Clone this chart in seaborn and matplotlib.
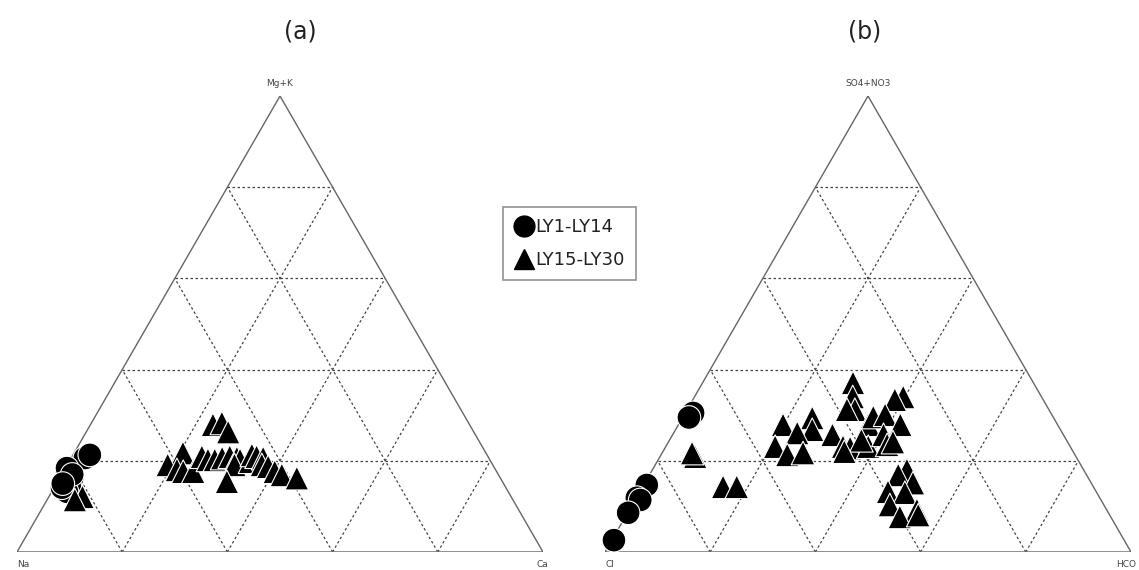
import numpy as np
import pandas as pd
import seaborn as sns
import matplotlib.pyplot as plt
from matplotlib.lines import Line2D

# (a) cations, percentages: top = Mg+K, right = Ca, left = Na (rest)
a_circ_top = [20.6, 21.3, 18.4, 16.2, 14.3, 13.2, 14.1, 17.0, 15.0]
a_circ_right = [2.6, 3.2, 0.3, 2.4, 2.9, 2.9, 1.5, 2.0, 1.2]
a_tri_top = [12.1, 11.4, 27.9, 28.3, 26.3, 21.7, 19.1, 18.0, 17.6, 17.6, 20.9, 20.2,
             20.2, 20.6, 20.9, 20.6, 20.2, 19.1, 19.8, 21.3, 20.9, 20.6, 19.1, 18.7,
             17.6, 16.9, 16.2, 15.4]
a_tri_right = [6.4, 5.3, 23.3, 24.8, 27.0, 20.7, 19.1, 21.4, 22.8, 24.7, 24.7, 26.2,
               27.5, 28.7, 30.0, 31.5, 32.3, 31.8, 34.4, 34.0, 35.1, 36.5, 37.0, 38.4,
               40.2, 41.9, 45.1, 32.2]

# (b) anions, percentages: top = SO4+NO3, right = HCO, left = Cl (rest)
b_circ_top = [30.5, 29.5, 14.7, 11.9, 11.4, 8.6, 2.6]
b_circ_right = [1.5, 1.2, 0.6, 0.1, 1.0, 0.1, 0.4]
b_tri_top = [20.9, 21.7, 14.3, 14.3, 37.1, 34.0, 31.2, 31.2, 34.0, 33.4, 27.9, 29.4,
             26.8, 26.1, 23.1, 21.3, 21.7, 25.7, 23.1, 22.8, 27.9, 29.6, 30.1, 27.9,
             23.1, 25.7, 23.5, 24.1, 18.0, 16.9, 15.1, 13.2, 13.0, 10.3, 9.2, 7.7, 8.1,
             24.5, 22.0]
b_tri_right = [6.7, 5.7, 15.3, 17.9, 28.6, 30.1, 31.9, 30.4, 39.7, 38.4, 19.9, 24.7,
               26.0, 23.5, 20.8, 24.0, 26.8, 30.4, 33.7, 35.2, 36.1, 36.2, 38.2, 42.2,
               38.5, 40.1, 41.9, 42.7, 48.4, 47.3, 51.0, 47.2, 50.5, 49.0, 54.7, 52.2, 55.5,
               36.5, 34.5]

H = np.sqrt(3) / 2


def to_xy(top, right):
    top = np.asarray(top) / 100
    right = np.asarray(right) / 100
    return right + top / 2, top * H


def make_df(circ_top, circ_right, tri_top, tri_right):
    cx, cy = to_xy(circ_top, circ_right)
    tx, ty = to_xy(tri_top, tri_right)
    return pd.DataFrame({
        'x': np.concatenate([cx, tx]),
        'y': np.concatenate([cy, ty]),
        'group': ['LY1-LY14'] * len(cx) + ['LY15-LY30'] * len(tx),
    })


def draw_ternary(ax, df, labels):
    # grid lines at 20 % steps, parallel to each side
    dash = dict(ls=(0, (2, 2)), color='#444444', lw=0.9)
    for f in [0.2, 0.4, 0.6, 0.8]:
        ax.plot([f / 2, 1 - f / 2], [f * H, f * H], **dash)
        ax.plot([f, f / 2 + 0.5], [0, (1 - f) * H], **dash)
        ax.plot([f, f / 2], [0, f * H], **dash)
    ax.plot([0, 1, 0.5, 0], [0, 0, H, 0], color='#666666', lw=1.0)
    sns.scatterplot(data=df, x='x', y='y', style='group', markers={'LY1-LY14': 'o', 'LY15-LY30': '^'},
                    color='black', s=290, edgecolor='white', linewidth=0.8, legend=False, ax=ax,
                    zorder=3, clip_on=False)
    ax.set_xlim(0, 1)
    ax.set_ylim(0, H)
    ax.set_axis_off()
    ax.text(0.5, H + 0.015, labels[0], ha='center', va='bottom', fontsize=6.5, color='#444444')
    ax.text(0.0, -0.015, labels[1], ha='left', va='top', fontsize=6.5, color='#444444')
    ax.text(1.01, -0.015, labels[2], ha='right', va='top', fontsize=6.5, color='#444444')


sns.set_style('white')
fig = plt.figure(figsize=(11.39, 5.70), dpi=100)

W, Hh = 1139, 570
ax1 = fig.add_axes([17 / W, 18 / Hh, 526 / W, 456 / Hh])
ax2 = fig.add_axes([605 / W, 18 / Hh, 526 / W, 456 / Hh])
for ax in (ax1, ax2):
    ax.patch.set_alpha(0)

draw_ternary(ax1, make_df(a_circ_top, a_circ_right, a_tri_top, a_tri_right), ['Mg+K', 'Na', 'Ca'])
draw_ternary(ax2, make_df(b_circ_top, b_circ_right, b_tri_top, b_tri_right), ['SO4+NO3', 'Cl', 'HCO'])

fig.text(300 / W, 1 - 32 / Hh, '(a)', ha='center', va='center', fontsize=17, color='#222222')
fig.text(865 / W, 1 - 32 / Hh, '(b)', ha='center', va='center', fontsize=17, color='#222222')

handles = [Line2D([], [], marker='o', ls='', color='black', markersize=15),
           Line2D([], [], marker='^', ls='', color='black', markersize=15)]
leg = fig.legend(handles, ['LY1-LY14', 'LY15-LY30'], loc='upper left',
                 bbox_to_anchor=(503 / W, 1 - 207 / Hh), borderaxespad=0, fontsize=13,
                 frameon=True, fancybox=False, edgecolor='#777777', handletextpad=0.1,
                 borderpad=0.6, labelspacing=0.85, handlelength=1.1)
leg.get_frame().set_linewidth(1.2)
for t in leg.get_texts():
    t.set_color('#222222')

fig.savefig('out.png', dpi=100)
